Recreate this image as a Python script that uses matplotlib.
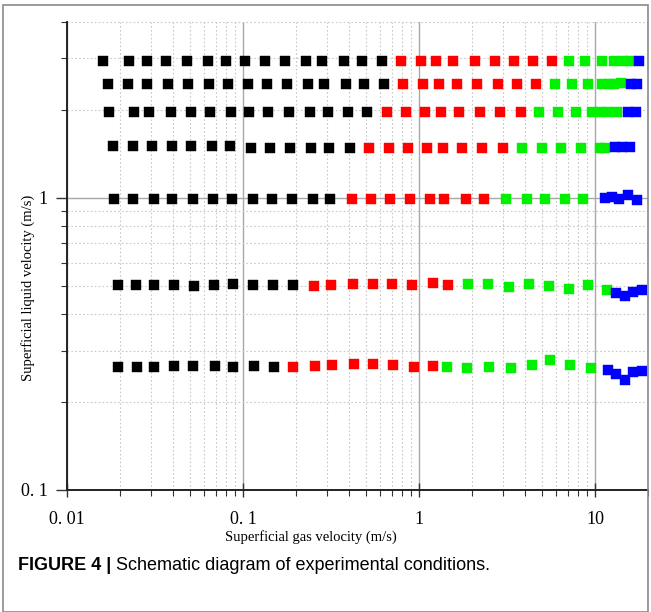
import matplotlib
matplotlib.use("Agg")
import matplotlib.pyplot as plt
from matplotlib.ticker import LogLocator, NullFormatter, FixedLocator, FixedFormatter
from matplotlib.patches import Rectangle

# ---------------- data ----------------
# superficial gas velocity (m/s) / superficial liquid velocity (m/s), grouped by regime colour
black_jg = [0.0160, 0.0225, 0.0285, 0.0365, 0.0481, 0.0633, 0.0801, 0.1026, 0.1334, 0.1732, 0.228, 0.281, 0.375, 0.474, 0.616,
            0.0172, 0.0223, 0.0285, 0.0376, 0.0489, 0.0644, 0.0819, 0.1072, 0.1369, 0.1778, 0.235, 0.290, 0.383, 0.489, 0.635,
            0.0173, 0.0240, 0.0292, 0.0390, 0.0507, 0.0649, 0.0855, 0.1082, 0.1387, 0.1825, 0.240, 0.304, 0.395, 0.507,
            0.0183, 0.0236, 0.0303, 0.0397, 0.0505, 0.0664, 0.0847, 0.1106, 0.1423, 0.1849, 0.244, 0.308, 0.406,
            0.0186, 0.0238, 0.0312, 0.0397, 0.0522, 0.0678, 0.0866, 0.1135, 0.1456, 0.1891, 0.249, 0.312,
            0.0194, 0.0246, 0.0312, 0.0406, 0.0527, 0.0684, 0.0878, 0.1135, 0.1475, 0.1931,
            0.0196, 0.0250, 0.0313, 0.0407, 0.0522, 0.0693, 0.0878, 0.1155, 0.1494]
black_jl = [2.93] * 15 + [2.45] * 15 + [1.97] * 14 + [1.50] * 7 + [1.48] * 6 + [0.99] * 12 + \
           [0.502, 0.504, 0.504, 0.502, 0.501, 0.504, 0.507, 0.502, 0.502, 0.505] + \
           [0.2631, 0.2644, 0.2631, 0.2659, 0.2659, 0.2659, 0.2631, 0.2652, 0.2644]

red_jg = [0.790, 1.026, 1.249, 1.561, 2.081, 2.703, 3.466, 4.443, 5.697,
          0.814, 1.058, 1.304, 1.638, 2.127, 2.822, 3.618, 4.621,
          0.658, 0.844, 1.082, 1.334, 1.688, 2.221, 2.885, 3.797,
          0.522, 0.673, 0.863, 1.115, 1.364, 1.762, 2.289, 3.001,
          0.415, 0.534, 0.684, 0.889, 1.155, 1.392, 1.849, 2.340,
          0.254, 0.317, 0.423, 0.546, 0.705, 0.916, 1.196, 1.467,
          0.1931, 0.257, 0.319, 0.429, 0.550, 0.714, 0.937, 1.206]
red_jl = [2.93] * 9 + [2.45] * 8 + [1.97] * 8 + [1.48] * 8 + [0.99] * 8 + \
         [0.499, 0.504, 0.509, 0.506, 0.507, 0.502, 0.510, 0.505] + \
         [0.2637, 0.2665, 0.2680, 0.2690, 0.2707, 0.2673, 0.2631, 0.2659]

green_jg = [7.117, 8.775, 10.96, 12.82, 14.43, 15.81,
            5.925, 7.401, 9.126, 10.96, 12.01, 12.82, 14.05,
            4.806, 6.163, 7.798, 9.616, 10.68, 11.86, 13.34,
            3.863, 4.981, 6.41, 8.295, 10.68, 11.40,
            3.121, 4.092, 5.180, 6.782, 8.58,
            1.891, 2.476, 3.259, 4.233, 5.478, 7.145, 9.16, 11.66,
            1.437, 1.866, 2.489, 3.332, 4.370, 5.549, 7.211, 9.455]
green_jl = [2.93] * 6 + [2.45] * 6 + [2.48] + [1.97] * 7 + [1.48] * 6 + [0.99] * 5 + \
           [0.507, 0.506, 0.497, 0.506, 0.500, 0.488, 0.504, 0.482] + \
           [0.2637, 0.2625, 0.2637, 0.2625, 0.2684, 0.2788, 0.2673, 0.2610]

blue_jg = [17.78,
           16.02, 17.33,
           15.40, 17.10,
           12.99, 14.24, 15.81,
           11.40, 12.49, 13.69, 15.40, 17.33,
           13.16, 14.81, 16.44, 18.49,
           11.86, 13.16, 14.81, 16.44, 18.49]
blue_jl = [2.93,
           2.45, 2.45,
           1.97, 1.97,
           1.49, 1.49, 1.49,
           1.00, 1.01, 0.99, 1.02, 0.98,
           0.472, 0.462, 0.475, 0.484,
           0.2582, 0.2495, 0.2380, 0.2526, 0.2556]

series = [(black_jg, black_jl, "#000000"),
          (red_jg, red_jl, "#ff0000"),
          (green_jg, green_jl, "#00f000"),
          (blue_jg, blue_jl, "#0000ff")]

x_ticks = [0.01, 0.1, 1, 10]
x_ticklabels = ["0. 01", "0. 1", "1", "10"]
y_ticks = [0.1, 1]
y_ticklabels = ["0. 1", "1"]

xlabel = "Superficial gas velocity (m/s)"
ylabel = "Superficial liquid velocity (m/s)"
caption_bold = "FIGURE 4 |"
caption_rest = " Schematic diagram of experimental conditions."

# ---------------- figure ----------------
W, H = 651, 612
fig = plt.figure(figsize=(W / 100, H / 100), dpi=100)
fig.patch.set_facecolor("white")

ax = fig.add_axes([67 / W, 1 - 490 / H, (648 - 67) / W, (490 - 22) / H])
ax.set_xscale("log")
ax.set_yscale("log")
ax.set_xlim(0.01, 20)
ax.set_ylim(0.1, 4)

for jg, jl, c in series:
    ax.plot(jg, jl, linestyle="none", marker="s", markersize=7.2,
            markerfacecolor=c, markeredgecolor=c, markeredgewidth=0.3, zorder=3)

serif = "Liberation Serif"
ax.xaxis.set_major_locator(FixedLocator(x_ticks))
ax.xaxis.set_major_formatter(FixedFormatter(x_ticklabels))
ax.yaxis.set_major_locator(FixedLocator(y_ticks))
ax.yaxis.set_major_formatter(FixedFormatter(y_ticklabels))
ax.xaxis.set_minor_locator(LogLocator(base=10, subs=range(2, 10), numticks=20))
ax.yaxis.set_minor_locator(LogLocator(base=10, subs=range(2, 10), numticks=20))
ax.xaxis.set_minor_formatter(NullFormatter())
ax.yaxis.set_minor_formatter(NullFormatter())

for lab in ax.get_xticklabels() + ax.get_yticklabels():
    lab.set_fontfamily(serif)
    lab.set_fontsize(13)

ax.tick_params(axis="x", which="major", direction="inout", length=10, width=1.0,
               color="#333333", pad=10)
ax.tick_params(axis="y", which="major", direction="out", length=8, width=1.0,
               color="#333333", pad=6)
ax.tick_params(which="minor", direction="out", length=4, width=0.8, color="#333333")

ax.grid(which="major", color="#a8a8a8", linewidth=1.0, linestyle="-", zorder=0)
ax.grid(which="minor", color="#c8c8c8", linewidth=0.8, linestyle=(0, (1.5, 2)), zorder=0)
ax.set_axisbelow(True)

for s in ["top", "right"]:
    ax.spines[s].set_visible(False)
for s in ["left", "bottom"]:
    ax.spines[s].set_color("#222222")
    ax.spines[s].set_linewidth(1.4)

fig.text(311 / W, 1 - 537 / H, xlabel, family=serif, fontsize=10.5,
         ha="center", va="center")
fig.text(28 / W, 1 - 288 / H, ylabel, family=serif, fontsize=10.5,
         ha="center", va="center", rotation=90)

# caption
t1 = fig.text(18 / W, 1 - 565 / H, caption_bold, family="Liberation Sans",
              fontsize=13, fontweight="bold", ha="left", va="center")
fig.canvas.draw()
bb = t1.get_window_extent(renderer=fig.canvas.get_renderer())
fig.text(bb.x1 / W, 1 - 565 / H, caption_rest, family="Liberation Sans",
         fontsize=13, ha="left", va="center")

# outer frame
fig.add_artist(Rectangle((3 / W, 0.5 / H), (648 - 3) / W, (607 - 0.5) / H,
                         transform=fig.transFigure, fill=False,
                         edgecolor="#8a8a8a", linewidth=1.2))

fig.savefig("out.png", dpi=100, facecolor="white")
